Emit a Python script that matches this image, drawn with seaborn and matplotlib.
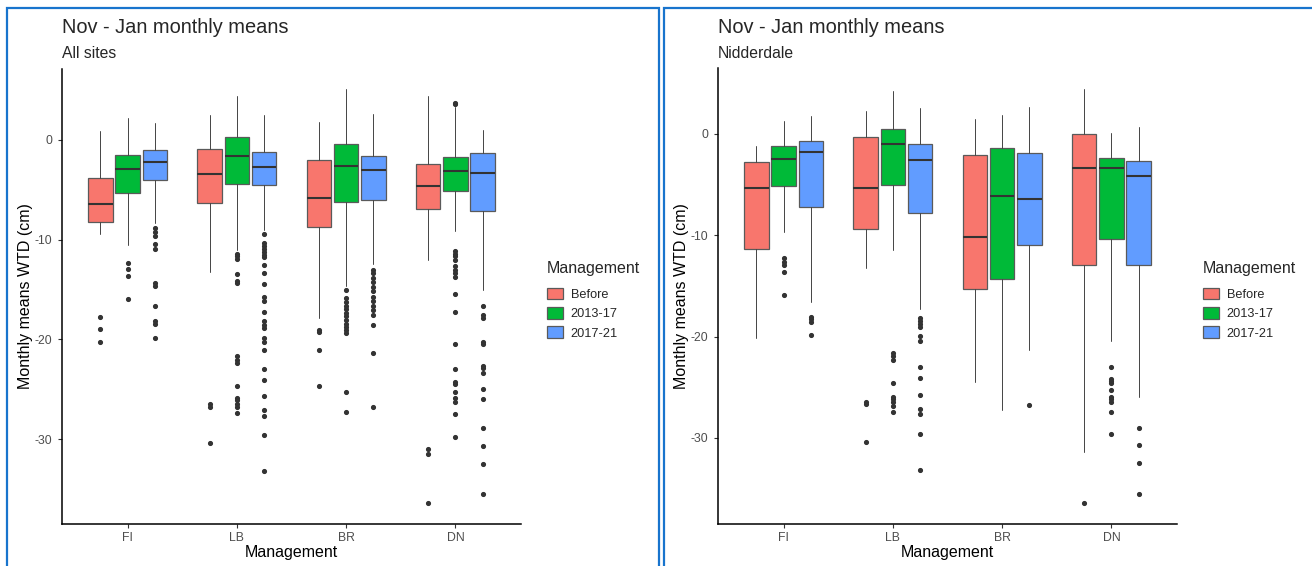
import matplotlib
matplotlib.use("Agg")
import matplotlib.pyplot as plt
from matplotlib.patches import Patch, Rectangle
import seaborn as sns

# categories
sites = ["FI", "LB", "BR", "DN"]
groups = ["Before", "2013-17", "2017-21"]
group_colors = ["#F8766D", "#00BA38", "#619CFF"]

# All sites: box stats per site, per group (upper whisker, Q3, median, Q1, lower whisker)
all_whishi = [[0.9, 2.15, 1.74], [2.5, 4.41, 2.5], [1.8, 5.09, 2.6], [4.41, 3.3, 1.0]]
all_q3 = [[-3.77, -1.47, -1.0], [-0.9, 0.27, -1.2], [-2.04, -0.43, -1.63], [-2.39, -1.73, -1.3]]
all_med = [[-6.38, -2.9, -2.17], [-3.37, -1.63, -2.67], [-5.78, -2.57, -3.04], [-4.63, -3.11, -3.32]]
all_q1 = [[-8.22, -5.35, -4.04], [-6.32, -4.37, -4.47], [-8.73, -6.18, -6.07], [-6.94, -5.13, -7.12]]
all_whislo = [[-9.39, -10.53, -8.35], [-13.24, -11.06, -9.06], [-17.85, -14.64, -12.4], [-12.0, -9.14, -15.03]]
all_fliers = [
    [[-17.8, -19.0, -20.26],
     [-12.34, -12.97, -13.6, -15.95],
     [-8.83, -9.22, -9.63, -10.46, -10.96, -14.3, -14.64, -16.7, -18.2, -18.5, -19.82]],
    [[-26.5, -26.75, -30.36],
     [-11.43, -11.63, -11.9, -13.47, -14.14, -14.3, -21.68, -22.05, -22.33, -24.65,
      -25.84, -26.1, -26.45, -26.74, -27.4],
     [-9.43, -10.37, -10.66, -10.95, -11.2, -11.49, -11.75, -12.5, -13.37, -14.46,
      -15.72, -16.19, -17.27, -18.18, -18.54, -18.87, -19.88, -20.24, -21.03, -22.95,
      -24.1, -25.66, -27.1, -27.65, -29.63, -33.18]],
    [[-19.08, -19.23, -21.07, -24.65],
     [-15.0, -15.9, -16.26, -16.62, -16.98, -17.35, -17.7, -18.07, -18.43, -18.79,
      -19.08, -19.34, -25.23, -27.32],
     [-13.0, -13.37, -13.8, -14.28, -14.75, -15.18, -15.72, -16.19, -16.62, -17.06,
      -17.6, -18.54, -21.4, -26.82]],
    [[-30.97, -31.51, -36.39],
     [3.6, 3.75, -11.1, -11.4, -11.67, -12.0, -12.65, -13.0, -13.37, -13.73, -15.4,
      -17.27, -20.42, -23.02, -24.29, -24.5, -25.3, -25.84, -26.3, -27.47, -29.74],
     [-16.7, -17.6, -17.82, -20.31, -20.49, -22.66, -22.84, -23.42, -25.0, -25.95,
      -28.91, -30.65, -32.45, -35.53]],
]

# Nidderdale
nid_whishi = [[-1.21, 1.24, 1.81], [2.24, 4.27, 2.6], [1.42, 1.88, 2.7], [4.41, 0.1, 0.71]]
nid_q3 = [[-2.81, -1.17, -0.68], [-0.28, 0.53, -0.96], [-2.1, -1.39, -1.88], [0.0, -2.38, -2.63]]
nid_med = [[-5.37, -2.49, -1.74], [-5.3, -0.96, -2.6], [-10.17, -6.08, -6.4], [-3.41, -3.41, -4.16]]
nid_q1 = [[-11.34, -5.12, -7.18], [-9.42, -5.05, -7.82], [-15.29, -14.33, -10.98], [-12.9, -10.42, -12.9]]
nid_whislo = [[-20.16, -9.67, -16.6], [-13.22, -11.45, -17.24], [-24.49, -27.27, -21.29], [-31.43, -20.44, -25.92]]
nid_fliers = [
    [[],
     [-12.26, -12.62, -12.98, -13.58, -15.93],
     [-18.09, -18.31, -18.52, -19.8]],
    [[-26.48, -26.66, -30.4],
     [-21.65, -21.93, -22.29, -24.53, -25.95, -26.2, -26.48, -26.8, -27.44],
     [-18.2, -18.49, -18.73, -19.02, -19.91, -20.44, -23.0, -24.07, -25.74, -27.16,
      -27.62, -29.65, -33.13]],
    [[], [], [-26.73]],
    [[-36.4],
     [-23.0, -24.14, -24.35, -24.53, -25.31, -25.95, -26.2, -26.48, -27.44, -29.65],
     [-28.97, -30.68, -32.49, -35.51]],
]

sns.set_theme(style="white")
plt.rcParams["font.family"] = ["Liberation Sans", "DejaVu Sans"]
plt.rcParams["axes.unicode_minus"] = False
palette = sns.color_palette(group_colors)

W, H = 1312, 566
fig = plt.figure(figsize=(W / 100, H / 100), dpi=100)


def px(x, y):
    return x / W, 1 - y / H


def draw_panel(left, subtitle, whishi, q3, med, q1, whislo, fliers):
    ax = fig.add_axes([left / W, 1 - 523.5 / H, 459 / W, 455 / H])
    offsets = [-0.25, 0.0, 0.25]
    for g in range(len(groups)):
        stats = []
        for s in range(len(sites)):
            stats.append(dict(med=med[s][g], q1=q1[s][g], q3=q3[s][g],
                              whislo=whislo[s][g], whishi=whishi[s][g],
                              fliers=fliers[s][g]))
        ax.bxp(stats, positions=[s + offsets[g] for s in range(len(sites))],
               widths=0.225, patch_artist=True, showcaps=False,
               boxprops=dict(facecolor=palette[g], edgecolor="#5a5a5a", linewidth=0.9),
               medianprops=dict(color="#333333", linewidth=1.5),
               whiskerprops=dict(color="#444444", linewidth=0.7),
               flierprops=dict(marker="o", markersize=2.7, markerfacecolor="#333333",
                               markeredgecolor="#333333"))
    vals = [v for row in whishi for v in row] + [v for row in whislo for v in row]
    vals += [v for row in fliers for grp in row for v in grp]
    lo, hi = min(vals), max(vals)
    pad = 0.05 * (hi - lo)
    ax.set_ylim(lo - pad, hi + pad)
    ax.set_xlim(-0.6, len(sites) - 0.4)
    ax.set_xticks(range(len(sites)))
    ax.set_xticklabels(sites)
    ax.set_yticks([0, -10, -20, -30])
    ax.tick_params(axis="both", length=3, width=0.8, color="#333333",
                   labelsize=8.8, labelcolor="#4D4D4D", bottom=True, left=True)
    ax.tick_params(axis="y", pad=4)
    ax.tick_params(axis="x", pad=3)
    sns.despine(ax=ax)
    for sp in ["left", "bottom"]:
        ax.spines[sp].set_color("black")
        ax.spines[sp].set_linewidth(1.1)
    ax.set_xlabel("Management", fontsize=11.5, color="black", labelpad=1)
    ax.set_ylabel("Monthly means WTD (cm)", fontsize=11.5, color="black", labelpad=1)
    ax.grid(False)

    fig.text(*px(left, 33), "Nov - Jan monthly means", fontsize=14.4, va="baseline", ha="left")
    fig.text(*px(left, 58), subtitle, fontsize=11.3, va="baseline", ha="left")

    handles = [Patch(facecolor=palette[g], edgecolor="#5a5a5a", linewidth=0.9) for g in range(len(groups))]
    leg = ax.legend(handles, groups, title="Management", loc="upper left",
                    bbox_to_anchor=px(left + 473, 249), bbox_transform=fig.transFigure,
                    frameon=False, fontsize=9.2, title_fontsize=11.5, alignment="left",
                    handlelength=1.3, handleheight=1.0, labelspacing=0.48, handletextpad=0.6)
    leg._legend_box.sep = 9  # extra gap under the legend title
    return ax


draw_panel(62, "All sites", all_whishi, all_q3, all_med, all_q1, all_whislo, all_fliers)
draw_panel(718, "Nidderdale", nid_whishi, nid_q3, nid_med, nid_q1, nid_whislo, nid_fliers)

# blue frames around the two panels
for x0, x1 in [(7, 659), (664, 1330)]:
    fig.add_artist(Rectangle(px(x0, 600), (x1 - x0) / W, (600 - 8) / H,
                             transform=fig.transFigure, fill=False,
                             edgecolor="#1874CD", linewidth=1.6))

fig.savefig("out.png", dpi=100)
